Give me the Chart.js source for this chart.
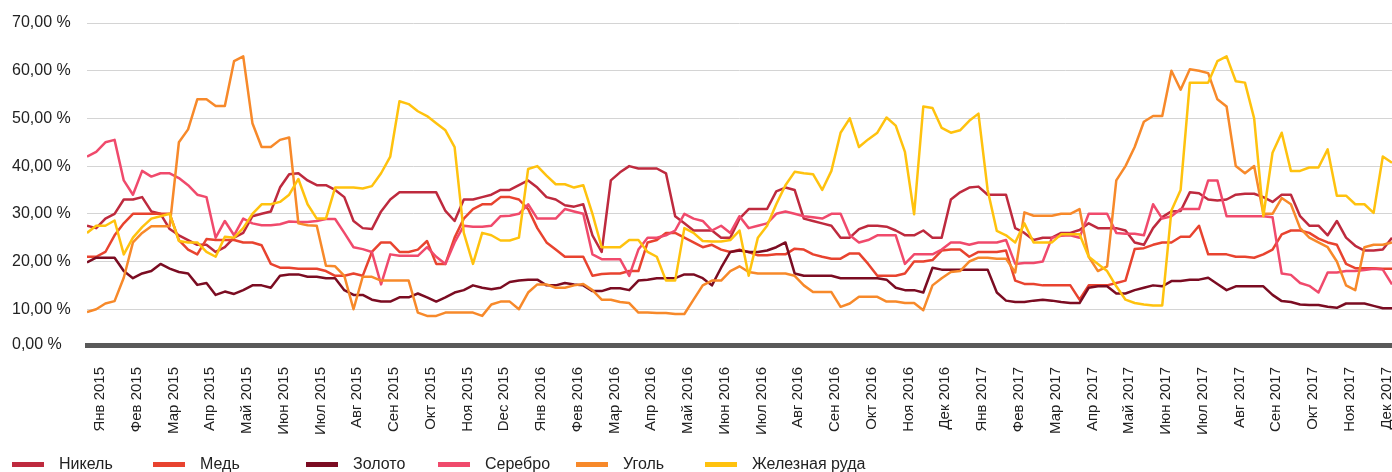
<!DOCTYPE html>
<html><head><meta charset="utf-8">
<script src="https://cdn.jsdelivr.net/npm/chart.js@4.4.1/dist/chart.umd.min.js"></script>
<style>
html,body{margin:0;padding:0;background:#fff;overflow:hidden;}
#wrap{position:relative;width:1392px;height:472px;overflow:hidden;}
#c{position:absolute;left:0;top:0;}
#legend{position:absolute;left:0;top:455px;height:30px;width:1392px;font-family:'Liberation Sans',Arial,sans-serif;font-size:16px;color:#222;}
.item{position:absolute;top:0;height:18px;line-height:18px;display:flex;align-items:center;white-space:nowrap;}
.sw{display:inline-block;width:32px;height:5px;margin-right:15px;}
</style></head>
<body><div id="wrap"><canvas id="c" width="1392" height="472"></canvas><div id="legend"></div></div>
<script>
// ---- categories / labels ----
const monthLabels = [
 'Янв 2015','Фев 2015','Мар 2015','Апр 2015','Май 2015','Июн 2015','Июл 2015','Авг 2015','Сен 2015','Окт 2015','Ноя 2015','Dec 2015',
 'Янв 2016','Фев 2016','Мар 2016','Апр 2016','Май 2016','Июн 2016','Июл 2016','Авг 2016','Сен 2016','Окт 2016','Ноя 2016','Дек 2016',
 'Янв 2017','Фев 2017','Мар 2017','Апр 2017','Май 2017','Июн 2017','Июл 2017','Авг 2017','Сен 2017','Окт 2017','Ноя 2017','Дек 2017'];
const yTickValues = [2.5, 10, 20, 30, 40, 50, 60, 70];
const yTickLabels = ['0,00 %','10,00 %','20,00 %','30,00 %','40,00 %','50,00 %','60,00 %','70,00 %'];
const seriesNames = ['Никель','Медь','Золото','Серебро','Уголь','Железная руда'];
const seriesColors = ['#BE2A3E','#E8432F','#7B0C22','#F04A6C','#F7892A','#FFC20E'];
// samples every quarter month from start of Jan 2015
const sampleStep = 0.25;

// ---- series values (%) ----
const nickel = [
 27.5,27,29,30,33,33,33.5,30.5,30,26.8,
 25.5,24.5,23.5,23.5,22,23,25,26,29.5,30,
 30.5,35.5,38.3,38.5,37,36,36,35,33.5,28.5,
 27,26.8,30.5,33,34.5,34.5,34.5,34.5,34.5,30.6,
 28.5,33,33,33.5,34,35,35,36,37,35.5,
 33.5,33,31.8,31.5,32,25.5,22,37,38.7,40,
 39.5,39.5,39.5,38.5,29.5,28,26.5,26.5,26.5,25,
 25,29,31,31,31,34.7,35.5,35,29,28.5,
 28,27.5,25,25,26.8,27.5,27.5,27.3,26.5,25.5,
 25.5,26.5,25,25,33,34.5,35.5,35.7,34,34,
 34,27,26,24.5,25,25,26,26,26.6,28,
 27,27,27,26.5,24,23.5,27,29.3,30.5,30.6,
 34.5,34.3,33,32.8,33,34,34.2,34.2,33.5,32.5,
 34,34,29.5,27.5,27.5,25.5,28.5,25,23.3,22.3,
 22.3,22.5,25];
const copper = [
 21,21,22,25.5,28,30,30,30,30,30,
 24.5,22.5,21.5,24.7,24.5,24.5,24.5,24,24,23.4,
 19.5,18.7,18.7,18.5,18.5,18.5,18,17,17,17.5,
 17,22,24,24,22,22,22.5,24.3,19.5,19.5,
 25,29,31,32,32,33.5,33.5,33,31,27,
 24,22.5,21,21,21,17,17.4,17.5,17.5,18,
 18,24,24.5,26,26,25,24,23,23.5,22.5,
 22,22.5,22,21.3,21.3,21.5,21.5,22.7,22.5,21.5,
 21,20.6,20.6,21.7,21.7,19.5,17,17,17,17.5,
 20,20,20.3,22.3,22.5,22.5,21,22,22,22,
 22.3,16,15.3,15.3,15,15,15,15,12,15,
 15,15,15.5,16,22.6,22.8,23.5,24,24,25.2,
 25.2,27.5,21.5,21.5,21.5,21,21,20.8,21.5,22.5,
 25.7,26.5,26.5,26,24.8,24,23.5,19.5,18.6,18.6,
 18.6,18.5,18.5];
const gold = [
 19.8,20.8,20.8,20.8,18,16.5,17.5,18,19.5,18.5,
 17.8,17.5,15.1,15.5,13,13.7,13.2,14,15,15,
 14.5,17,17.3,17.3,16.8,16.8,16.5,16.5,14,13,
 13,12,11.6,11.6,12.5,12.5,13.3,12.5,11.6,12.5,
 13.5,14,15,14.5,14.2,14.5,15.7,16,16.2,16.2,
 15,15,15.5,15.2,15,13.8,13.8,14.4,14.4,14,
 16,16.2,16.5,16.5,16.5,17.3,17.3,16.5,15,18.7,
 22,22.3,22,22,22.3,23,24,17.5,17,17,
 17,17,16.5,16.5,16.5,16.5,16.5,16.2,14.5,14,
 14,13.5,18.7,18.3,18.3,18.3,18.3,18.3,18.3,13.5,
 11.8,11.5,11.5,11.8,12,11.8,11.5,11.3,11.3,14.5,
 14.8,14.8,13.3,13.3,14,14.5,15,14.8,15.9,15.9,
 16.2,16.2,16.6,15.3,14,14.8,14.8,14.8,14.8,13,
 11.7,11.5,11,10.9,10.9,10.5,10.3,11.2,11.2,11.2,
 10.7,10.2,10.2];
const silver = [
 42,43,45,45.5,37,34,39,37.8,38.5,38.5,
 37.5,36,34,33.5,25,28.5,25.5,29,28,27.6,
 27.6,27.8,28.4,28.3,28.3,28.5,28.9,28.9,26,23,
 22.6,22,15.2,21.5,21.2,21.2,21.2,23,21,19.5,
 24,27.5,27.3,27.3,27.5,29.5,29.6,30,32,29,
 29,29,31,30.5,30,21.5,20.5,20.5,20.5,17,
 22.5,25,25,25.5,26.5,30,29,28.5,26.5,27.5,
 26,29.5,27,27.5,28,30,30.5,30,29.5,29.3,
 29,30,30,25.5,24,24.5,25.5,25.5,25.5,19.5,
 21.5,21.5,21.5,22.5,24,24,23.5,24,24,24,
 24.5,19.5,19.7,19.7,20,25,25.4,25.5,25,30,
 30,30,26,25.8,25.8,25.5,32,29,29.5,31,
 31,31,37,37,29.5,29.5,29.5,29.5,29.5,29.3,
 17.5,17.2,15.5,14.9,13.5,17.7,17.7,18,18,18.2,
 18.5,18.3,15.2];
const coal = [
 9.4,10,11.2,11.7,16.6,24,26,27.4,27.4,27.4,
 45,47.7,54,54,52.6,52.6,62,63,49,44,
 44,45.5,46,28,27.6,27.5,19.1,19,17,10,
 16.8,16.8,16,16,16,16,9.3,8.6,8.6,9.3,
 9.3,9.3,9.3,8.6,11,11.6,11.6,10,13.5,15.2,
 15.2,14.5,14.5,15,15.3,14,12,12,11.5,11.3,
 9.3,9.3,9.2,9.2,9,9,12,15,16,16,
 18,19,17.8,17.5,17.5,17.5,17.5,17,15,13.6,
 13.6,13.6,10.5,11.2,12.6,12.6,12.6,11.6,11.6,11.3,
 11.3,9.8,15,16.5,17.8,18,20,20.8,20.8,20.6,
 20.6,17.7,30.3,29.6,29.6,29.6,30,30,31,21,
 18,19,37,40,44,49.3,50.5,50.5,60,56,
 60.3,60,59.5,54,52.5,40,38.5,40,30,30,
 33.3,32,27,25,24,23,20,15,14,23,
 23.5,23.5,24];
const ironOre = [
 26,27.5,27.5,28.6,21.5,25,27.2,29,29.5,30,
 24.3,24,24,22,21,25.2,25,27,30,32,
 32,32.5,34,37.3,32,29,29,35.5,35.5,35.5,
 35.3,35.8,38.5,42,53.6,53,51.5,50.5,49,47.5,
 44,26,19.5,26,25.5,24.4,24.4,25,39.4,40,
 38,36.2,36.2,35.5,36,30,23,23,23,24.5,
 24.5,22,21,16,16,27,26,24.3,24.2,24.2,
 24.5,26.5,17,25,27.5,32,36,38.8,38.5,38.3,
 35,39,47,50,44,45.6,47,50.2,48.5,43,
 29.9,52.5,52.2,48,47,47.5,49.5,51,35,26.4,
 25.5,24,28,24,24,24,25.7,25.7,25.7,21,
 19.5,18,14.8,12,11.3,11,10.8,10.8,30.7,35,
 57.5,57.5,57.5,62,63,57.8,57.5,50,29.5,42.8,
 47,39,39,39.7,39.7,43.5,33.8,33.8,32,32,
 30.2,42,40.7];

const seriesValues = [nickel, copper, gold, silver, coal, ironOre];
const FONT = "'Liberation Sans', Arial, sans-serif";
const axisFloor = yTickValues[0];
const labelOffset = 0.35;

const datasets = seriesValues.map((vals, si) => ({
  label: seriesNames[si],
  data: vals.map((v, i) => ({x: i * sampleStep, y: v})),
  borderColor: seriesColors[si],
  backgroundColor: seriesColors[si],
  borderWidth: 2.5,
  pointRadius: 0,
  tension: 0,
  borderJoinStyle: 'round',
  order: seriesValues.length - si
}));

new Chart(document.getElementById('c'), {
  type: 'line',
  data: { datasets },
  options: {
    responsive: false,
    devicePixelRatio: 1,
    animation: false,
    layout: { padding: { left: 12, right: 0, top: 23, bottom: 22 } },
    plugins: { legend: { display: false }, tooltip: { enabled: false } },
    scales: {
      x: {
        type: 'linear', bounds: 'data', min: 0, max: (nickel.length - 1) * sampleStep,
        afterBuildTicks: s => { s.ticks = monthLabels.map((_, i) => ({ value: i + labelOffset })); },
        afterFit: s => { s.height = 105; s.paddingLeft = 0; s.paddingRight = 0; },
        ticks: {
          autoSkip: false, minRotation: 90, maxRotation: 90, padding: 22,
          color: '#222', font: { family: FONT, size: 15 },
          callback: (v, i) => monthLabels[i]
        },
        grid: { display: false, drawTicks: false },
        border: { display: true, color: '#595959', width: 5 }
      },
      y: {
        type: 'linear', bounds: 'data', min: axisFloor, max: 70,
        afterBuildTicks: s => { s.ticks = yTickValues.map(v => ({ value: v })); },
        afterFit: s => { s.width = 75; },
        ticks: {
          crossAlign: 'far', padding: 0, color: '#222', font: { family: FONT, size: 16 },
          callback: (v, i) => yTickLabels[i]
        },
        grid: {
          drawTicks: false, lineWidth: 1,
          color: ctx => (ctx.tick && ctx.tick.value === axisFloor) ? 'rgba(0,0,0,0)' : '#d4d4d4'
        },
        border: { display: false }
      }
    }
  }
});

// legend (HTML)
const legendLeft = [12, 153, 306, 438, 576, 705];
const lg = document.getElementById('legend');
seriesNames.forEach((n, i) => {
  const it = document.createElement('div');
  it.className = 'item';
  it.style.left = legendLeft[i] + 'px';
  const sw = document.createElement('span');
  sw.className = 'sw';
  sw.style.background = seriesColors[i];
  const tx = document.createElement('span');
  tx.textContent = n;
  it.appendChild(sw); it.appendChild(tx);
  lg.appendChild(it);
});
</script></body></html>
